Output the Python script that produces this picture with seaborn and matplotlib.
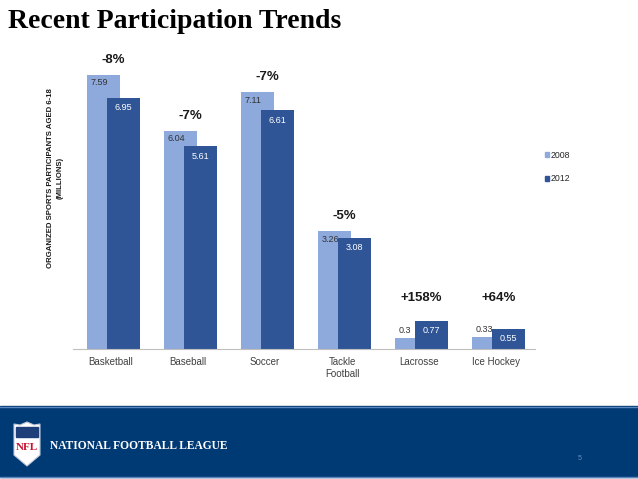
import pandas as pd
import matplotlib.pyplot as plt
import seaborn as sns
from matplotlib.patches import Patch, Rectangle, Polygon

# Données
sports = ['Basketball', 'Baseball', 'Soccer', 'Tackle\nFootball', 'Lacrosse', 'Ice Hockey']
v2008 = [7.59, 6.04, 7.11, 3.26, 0.3, 0.33]
v2012 = [6.95, 5.61, 6.61, 3.08, 0.77, 0.55]
pct = ['-8%', '-7%', '-7%', '-5%', '+158%', '+64%']
years = ['2008', '2012']

light = '#8EA9DC'
dark = '#2F5597'

data = pd.DataFrame({
    'sport': sports * 2,
    'year': ['2008'] * len(sports) + ['2012'] * len(sports),
    'value': v2008 + v2012,
})

sns.set_style('white')
plt.rcParams['font.family'] = ['Liberation Sans', 'DejaVu Sans']

fig = plt.figure(figsize=(6.38, 4.79), dpi=100)
ax = fig.add_axes([72.5 / 638, 1 - 349 / 479, 462 / 638, 288.8 / 479])

sns.barplot(data=data, x='sport', y='value', hue='year', hue_order=years,
            palette=[light, dark], ax=ax, legend=False, saturation=1,
            edgecolor='none', linewidth=0)

# barres qui se chevauchent
for k, cont in enumerate(ax.containers):
    for i, bar in enumerate(cont):
        bar.set_width(0.43)
        bar.set_x(i - 0.31 if k == 0 else i - 0.05)

ax.set_xlim(-0.5, 5.5)
ax.set_ylim(0, 8)
ax.set_xlabel('')
ax.set_ylabel('')
ax.set_yticks([])
sns.despine(ax=ax, left=True)
ax.spines['bottom'].set_color('#BFBFBF')
ax.spines['bottom'].set_linewidth(0.8)
ax.tick_params(axis='x', length=0, labelsize=7, colors='#404040', pad=6)

# Étiquettes de valeurs
for i in range(len(sports)):
    a, b = v2008[i], v2012[i]
    if a > 0.5:
        ax.text(i - 0.26, a - 0.22, f'{a:g}', ha='left', va='center', fontsize=6.5, color='#333333')
    else:
        ax.text(i - 0.26, a + 0.22, f'{a:g}', ha='left', va='center', fontsize=6.5, color='#333333')
    ax.text(i + 0.165, b - 0.27, f'{b:g}', ha='center', va='center', fontsize=6.5, color='white')
    y = max(max(a, b) + 0.42, 1.4)
    ax.text(i + 0.03, y, pct[i], ha='center', va='center', fontsize=9.5, fontweight='bold', color='#1A1A1A')

handles = [Patch(color=light, label='2008'), Patch(color=dark, label='2012')]
fig.legend(handles=handles, loc='center left', bbox_to_anchor=(537 / 638, 1 - 167 / 479),
           frameon=False, fontsize=6.3, handlelength=0.5, handleheight=0.5,
           handletextpad=0.15, labelspacing=1.7)

fig.text(55 / 638, 1 - 178 / 479, 'ORGANIZED SPORTS PARTICIPANTS AGED 6-18\n(MILLIONS)',
         rotation=90, ha='center', va='center', multialignment='center',
         fontsize=5.6, fontweight='bold', color='#1A1A1A', linespacing=1.6)

fig.text(8 / 638, 1 - 22 / 479, 'Recent Participation Trends', ha='left', va='center',
         fontsize=20, fontweight='bold', color='black',
         family=['Liberation Serif', 'DejaVu Serif'])

# Bandeau du bas
deco = fig.add_axes([0, 0, 1, 1], zorder=-1)
deco.set_xlim(0, 638)
deco.set_ylim(479, 0)
deco.axis('off')
deco.add_patch(Rectangle((0, 406), 638, 71, color='#003A75'))
deco.plot([0, 638], [406.5, 406.5], color='#5A86BD', lw=1)
deco.plot([0, 638], [477, 477], color='#5A86BD', lw=1)

shield = Polygon([(14, 424), (20, 425), (27, 422), (34, 425), (40, 424),
                  (40, 455), (27, 466), (14, 455)], closed=True,
                 facecolor='white', edgecolor='#C0C8D8', lw=0.8)
deco.add_patch(shield)
deco.add_patch(Polygon([(16, 427), (38, 427), (38, 437), (16, 437)], color='#1F3F7A'))
deco.text(27, 448, 'NFL', ha='center', va='center', color='#C8102E', fontsize=8,
          fontweight='bold', family=['Liberation Serif', 'DejaVu Serif'])

deco.text(50, 446, 'NATIONAL FOOTBALL LEAGUE', ha='left', va='center', color='white',
          fontsize=8.3, fontweight='bold', family=['Liberation Serif', 'DejaVu Serif'])
deco.text(580, 458, '5', ha='center', va='center', color='#6C8FC0', fontsize=5)

fig.savefig('out.png', dpi=100)
